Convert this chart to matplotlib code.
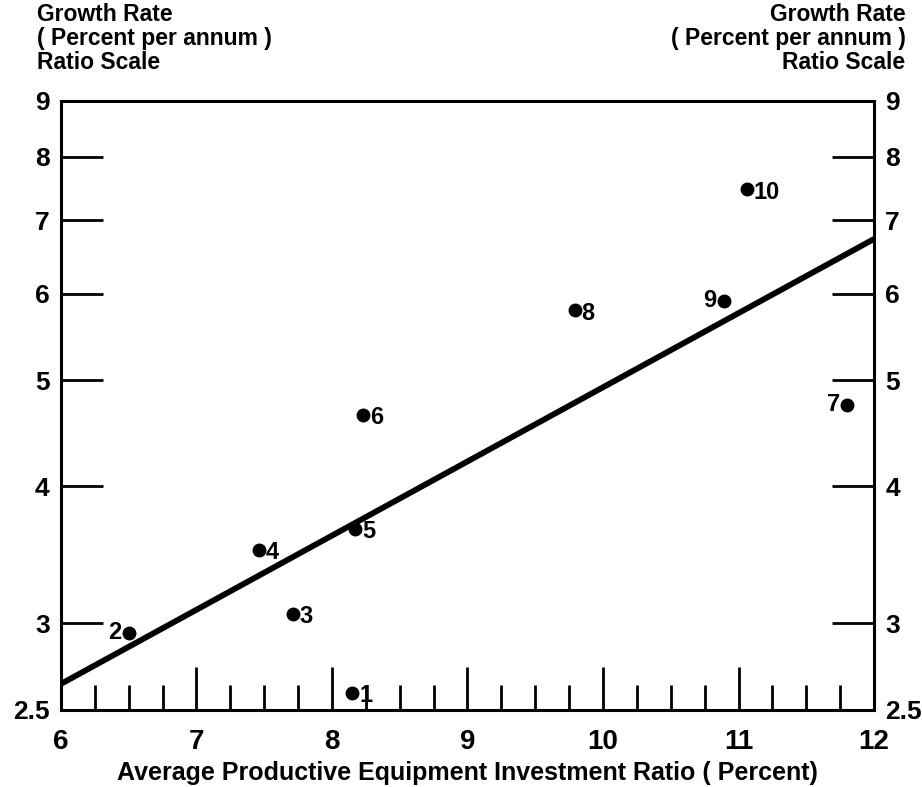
import numpy as np
import matplotlib.pyplot as plt
from matplotlib.ticker import FixedLocator, NullFormatter

plt.rcParams['font.family'] = ['Liberation Sans', 'DejaVu Sans']
plt.rcParams['font.weight'] = 'bold'

labels = ['1', '2', '3', '4', '5', '6', '7', '8', '9', '10']
invest = [8.15, 6.50, 7.71, 7.46, 8.17, 8.23, 11.80, 9.79, 10.89, 11.06]
growth = [2.59, 2.94, 3.06, 3.50, 3.66, 4.65, 4.75, 5.79, 5.91, 7.47]
# which side of the dot the number goes
label_side = ['right', 'left', 'right', 'right', 'right', 'right', 'left', 'right', 'left', 'right']

# fitted line end points
fit_x = [6, 12]
fit_y = [2.64, 6.73]

y_ticks = [2.5, 3, 4, 5, 6, 7, 8, 9]
y_ticklabels = ['2.5', '3', '4', '5', '6', '7', '8', '9']
x_ticks = [6, 7, 8, 9, 10, 11, 12]

fig = plt.figure(figsize=(9.22, 7.87), dpi=100)
ax = fig.add_axes([0.066, 0.098, 0.882, 0.774])

ax.set_yscale('log')
ax.set_xlim(6, 12)
ax.set_ylim(2.5, 9)

ax.plot(fit_x, fit_y, color='black', lw=4.2, solid_capstyle='butt')
ax.plot(invest, growth, 'o', color='black', ms=9)

for lab, xv, yv, side in zip(labels, invest, growth, label_side):
    if side == 'right':
        ax.annotate(lab, (xv, yv), xytext=(5, -2), textcoords='offset points',
                    ha='left', va='center', fontsize=17, fontweight='bold')
    else:
        ax.annotate(lab, (xv, yv), xytext=(-5, 0), textcoords='offset points',
                    ha='right', va='center', fontsize=17, fontweight='bold')

ax.yaxis.set_major_locator(FixedLocator(y_ticks))
ax.yaxis.set_minor_locator(FixedLocator([]))
ax.yaxis.set_minor_formatter(NullFormatter())
ax.set_yticklabels(y_ticklabels)
ax.xaxis.set_major_locator(FixedLocator(x_ticks))
ax.xaxis.set_minor_locator(FixedLocator(np.arange(6, 12.01, 0.25)))

ax.tick_params(axis='y', which='major', direction='in', length=30, width=2,
               left=True, right=True, labelleft=True, labelright=True,
               labelsize=19, pad=8)
ax.tick_params(axis='x', which='major', direction='in', length=31, width=2,
               labelsize=20, pad=14)
ax.tick_params(axis='x', which='minor', direction='in', length=18, width=2)
for t in ax.get_xticklabels() + ax.get_yticklabels():
    t.set_fontweight('bold')

for sp in ax.spines.values():
    sp.set_linewidth(2.2)

ax.set_xlabel('Average Productive Equipment Investment Ratio ( Percent)',
              fontsize=18, fontweight='bold', labelpad=4)

fig.text(0.040, 0.996, 'Growth Rate\n( Percent per annum )\nRatio Scale',
         ha='left', va='top', fontsize=16.5, fontweight='bold', linespacing=1.05)
fig.text(0.982, 0.996, 'Growth Rate\n( Percent per annum )\nRatio Scale',
         ha='right', va='top', fontsize=16.5, fontweight='bold', linespacing=1.05,
         multialignment='right')

fig.savefig('out.png', dpi=100)
